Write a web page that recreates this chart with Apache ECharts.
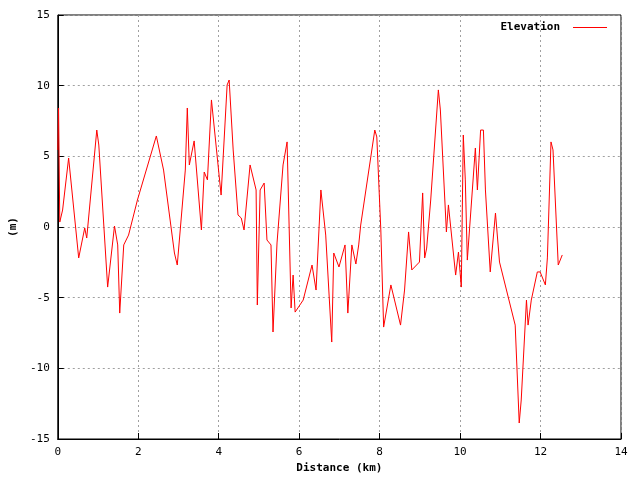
<!DOCTYPE html>
<html><head><meta charset="utf-8">
<script src="https://cdn.jsdelivr.net/npm/echarts@6/dist/echarts.min.js"></script>
<style>html,body{margin:0;padding:0;background:#fff}#c{width:640px;height:480px}</style>
</head><body><div id="c"></div>
<script>
const distanceKm = [0,0.02,0.05,0.12,0.27,0.52,0.67,0.72,0.97,1.02,1.24,1.41,1.49,1.54,1.64,1.76,1.98,2.45,2.63,2.90,2.97,3.17,3.22,3.27,3.39,3.57,3.64,3.72,3.82,4.06,4.21,4.26,4.36,4.48,4.56,4.63,4.78,4.93,4.96,5.03,5.13,5.20,5.30,5.35,5.45,5.60,5.70,5.80,5.85,5.90,6.10,6.32,6.42,6.54,6.66,6.81,6.86,6.99,7.14,7.21,7.31,7.41,7.48,7.53,7.88,7.93,8.03,8.10,8.28,8.52,8.62,8.72,8.80,8.99,9.07,9.12,9.17,9.27,9.46,9.51,9.66,9.71,9.89,9.96,10.03,10.08,10.13,10.18,10.38,10.43,10.51,10.58,10.63,10.75,10.88,10.98,11.37,11.47,11.52,11.65,11.69,11.77,11.92,11.99,12.12,12.17,12.26,12.31,12.44,12.54];
const elevation = [5.45,8.42,0.35,1.2,4.88,-2.19,-0.07,-0.78,6.86,5.8,-4.25,0.07,-1.27,-6.09,-1.27,-0.57,1.91,6.44,4.03,-1.84,-2.69,4.03,8.42,4.39,6.09,-0.21,3.89,3.33,8.99,2.26,10.05,10.4,5.45,0.85,0.64,-0.21,4.39,2.62,-5.52,2.62,3.11,-0.92,-1.27,-7.43,-1.13,4.39,6.02,-5.73,-3.40,-6.02,-5.17,-2.69,-4.46,2.62,-0.57,-8.14,-1.84,-2.83,-1.27,-6.09,-1.27,-2.62,-1.27,0.14,6.86,6.37,-0.21,-7.08,-4.10,-6.94,-4.46,-0.35,-3.04,-2.48,2.41,-2.19,-1.49,1.91,9.70,8.28,-0.35,1.56,-3.40,-1.77,-4.25,6.51,3.33,-2.34,5.59,2.62,6.86,6.86,2.62,-3.18,0.99,-2.48,-6.94,-13.87,-12.24,-5.17,-6.94,-5.17,-3.18,-3.18,-4.10,-2.19,6.02,5.45,-2.69,-1.98];
const seriesName = 'Elevation';
const font = 'DejaVu Sans Mono';
const chart = echarts.init(document.getElementById('c'));
const ax = (extra) => Object.assign({
  axisLine:{show:true,onZero:false,lineStyle:{color:'#000',width:1}},
  axisTick:{show:true,inside:true,length:6,lineStyle:{color:'#000'}},
  axisLabel:{color:'#000',fontFamily:font,fontSize:11},
  splitLine:{show:true,lineStyle:{color:'#a0a0a0',type:[2,3],width:1}},
  nameTextStyle:{color:'#000',fontFamily:font,fontSize:11,fontWeight:'bold'}
}, extra);
chart.setOption({
  animation:false,
  grid:{left:56,right:19,top:15,bottom:41,show:true,borderColor:'#000',borderWidth:1},
  legend:{right:28,top:17,itemWidth:34,itemHeight:1,icon:'rect',align:'right',textStyle:{color:'#000',fontFamily:font,fontSize:11,fontWeight:'bold',padding:[0,8,0,0]},
    data:[{name:seriesName,icon:'rect'}]},
  xAxis: ax({type:'value',min:0,max:14,interval:2,name:'Distance (km)',nameLocation:'middle',nameGap:22}),
  yAxis: ax({type:'value',min:-15,max:15,interval:5,name:'(m)',nameLocation:'middle',nameGap:36}),
  series:[{name:seriesName,type:'line',data:distanceKm.map((x,i)=>[x,elevation[i]]),showSymbol:false,lineStyle:{color:'#ff0000',width:1},itemStyle:{color:'#ff0000'}}]
});
</script></body></html>
